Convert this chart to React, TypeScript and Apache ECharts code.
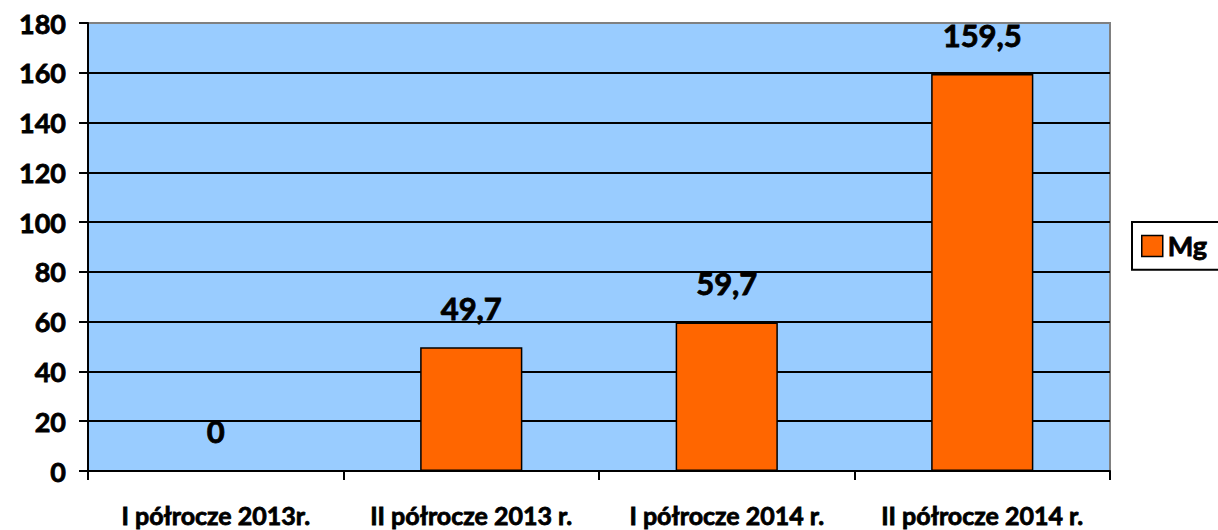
import React, { useEffect, useRef } from "react";
import * as echarts from "echarts";

const categories = ["I półrocze 2013r.", "II półrocze 2013 r.", "I półrocze 2014 r.", "II półrocze 2014 r."];
const mgValues = [0, 49.7, 59.7, 159.5];
const seriesName = "Mg";

export default function App() {
  const ref = useRef<HTMLDivElement>(null);
  useEffect(() => {
    if (!ref.current) return;
    const chart = echarts.init(ref.current, undefined, { renderer: "svg" });
    const font = "Lato";
    const fw = "bold";
    const thick = { textBorderColor: "#000", textBorderWidth: 0.8 };
    chart.setOption({
      animation: false,
      textStyle: { fontFamily: font },
      grid: {
        left: 88,
        right: 108,
        top: 23,
        bottom: 59,
        show: true,
        backgroundColor: "#99CCFF",
        borderColor: "#808080",
        borderWidth: 2,
      },
      legend: {
        data: [seriesName],
        left: 1132,
        top: 222,
        orient: "vertical",
        backgroundColor: "#ffffff",
        borderColor: "#000000",
        borderWidth: 2,
        borderRadius: 0,
        padding: [10, 40, 10, 9],
        itemWidth: 21,
        itemHeight: 21,
        itemGap: 6,
        icon: "rect",
        itemStyle: { borderColor: "#000", borderWidth: 1.5 },
        textStyle: { fontFamily: font, fontWeight: fw, fontSize: 27, color: "#000", ...thick },
      },
      xAxis: {
        type: "category",
        data: categories,
        axisLine: { lineStyle: { color: "#000", width: 2 } },
        axisTick: { show: true, length: 9, lineStyle: { color: "#000", width: 2 } },
        axisLabel: { interval: 0, fontFamily: font, fontWeight: fw, fontSize: 25, color: "#000", margin: 31, ...thick },
      },
      yAxis: {
        type: "value",
        min: 0,
        max: 180,
        interval: 20,
        axisLine: { show: true, lineStyle: { color: "#000", width: 2 } },
        axisTick: { show: true, length: 9, lineStyle: { color: "#000", width: 2 } },
        axisLabel: { fontFamily: font, fontWeight: fw, fontSize: 27, color: "#000", margin: 22, ...thick },
        splitLine: { show: true, showMaxLine: false, lineStyle: { color: "#000", width: 2 } },
      },
      series: [
        {
          name: seriesName,
          type: "bar",
          data: mgValues,
          barWidth: "40%",
          itemStyle: { color: "#FF6600", borderColor: "#000", borderWidth: 1.5 },
          label: {
            show: true,
            position: "top",
            distance: 24,
            fontFamily: font,
            fontWeight: fw,
            fontSize: 31,
            color: "#000",
            ...thick,
            formatter: (p: any) => String(p.value).replace(".", ","),
          },
        },
      ],
    });
    return () => chart.dispose();
  }, []);
  return <div ref={ref} style={{ width: 1218, height: 530, position: "absolute", left: 0, top: 0 }} />;
}
